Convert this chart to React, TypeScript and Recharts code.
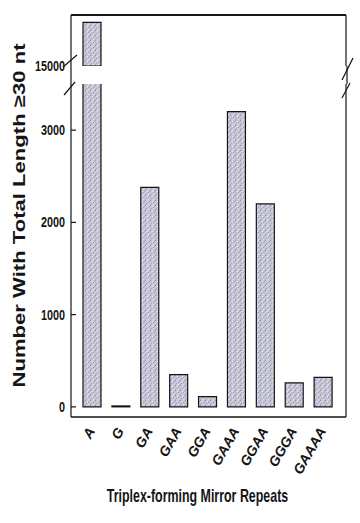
import { ComposedChart, Bar, Line, XAxis, YAxis, Label } from "recharts";

// repeat motifs along the x axis
const repeats = ["A", "G", "GA", "GAA", "GGA", "GAAA", "GGAA", "GGGA", "GAAAA"];
// number of mirror repeats with total length >= 30 nt
const counts = [15470, 10, 2380, 350, 110, 3200, 2200, 260, 320];
const lowTicks = [0, 1000, 2000, 3000];
const highTicks = [15000];
const breakAt = 15000;

const data = repeats.map((r, i) => ({
  repeat: r,
  count: counts[i],
  upper: counts[i] >= breakAt ? counts[i] : null,
}));

const ink = "#151515";
const sans = "'Liberation Sans', Arial, sans-serif";

function Stipple() {
  return (
    <defs>
      <pattern id="stip" width="5" height="5" patternUnits="userSpaceOnUse">
        <rect width="5" height="5" fill="#c8c8d9" />
        <rect x="0" y="0" width="1" height="1" fill="#8e8ea4" />
        <rect x="2" y="1" width="1" height="1" fill="#e9e9f1" />
        <rect x="4" y="1" width="1" height="1" fill="#a8a8bc" />
        <rect x="1" y="3" width="1" height="1" fill="#a2a2b6" />
        <rect x="3" y="2" width="1" height="1" fill="#9c9cb0" />
        <rect x="3" y="4" width="1" height="1" fill="#dcdce8" />
        <rect x="0" y="4" width="1" height="1" fill="#b0b0c2" />
      </pattern>
    </defs>
  );
}

// condensed bold numbers like the printed figure
function CountTick(props: any) {
  const { x, y, payload } = props;
  const s = String(payload.value);
  return (
    <text
      x={x}
      y={y}
      textAnchor="end"
      dominantBaseline="central"
      fill={ink}
      fontSize={14}
      fontWeight={700}
      fontFamily={sans}
      textLength={s.length * 6}
      lengthAdjust="spacingAndGlyphs"
    >
      {s}
    </text>
  );
}

function RepeatTick(props: any) {
  const { x, y, payload } = props;
  return (
    <g transform={`translate(${x + 3},${y + 14})`}>
      <text
        transform="rotate(-60)"
        textAnchor="end"
        fill={ink}
        fontSize={14}
        fontWeight={700}
        fontStyle="italic"
        fontFamily={sans}
      >
        {payload.value}
      </text>
    </g>
  );
}

function XTitle(props: any) {
  const { x, y, width } = props.viewBox;
  const cx = x + width / 2 - 11;
  const cy = y + 85;
  return (
    <g transform={`translate(${cx},${cy}) scale(0.69,1)`}>
      <text x={0} y={0} textAnchor="middle" fill={ink} fontSize={18} fontWeight={700} fontFamily={sans}>
        Triplex-forming Mirror Repeats
      </text>
    </g>
  );
}

function YTitle(props: any) {
  const { y, height } = props.viewBox;
  const cx = 19;
  const cy = y + height / 2 - 35;
  return (
    <text
      x={cx}
      y={cy}
      transform={`rotate(-90, ${cx}, ${cy})`}
      textAnchor="middle"
      dominantBaseline="central"
      fill={ink}
      fontSize={17}
      fontWeight={700}
      fontFamily={sans}
      textLength={344}
      lengthAdjust="spacingAndGlyphs"
    >
      Number With Total Length ≥30 nt
    </text>
  );
}

export default function App() {
  const W = 360;
  const H = 523;
  return (
    <div style={{ position: "absolute", left: 0, top: 0, width: W, height: H, background: "#fff" }}>
      {/* lower segment: 0 - 3500 */}
      <div style={{ position: "absolute", left: 0, top: 0 }}>
        <ComposedChart width={W} height={H} data={data} margin={{ top: 84, right: 13, bottom: 0, left: 0 }}>
          <Stipple />
          <XAxis
            dataKey="repeat"
            height={106}
            padding={{ left: 7, right: 8 }}
            tickLine={false}
            tickSize={0}
            tickMargin={0}
            interval={0}
            axisLine={{ stroke: ink, strokeWidth: 1.5 }}
            tick={<RepeatTick />}
          >
            <Label content={<XTitle />} />
          </XAxis>
          <YAxis
            width={71}
            domain={[-110, 3500]}
            ticks={lowTicks}
            allowDataOverflow
            tickSize={-5}
            tickMargin={11}
            axisLine={{ stroke: ink, strokeWidth: 1.2 }}
            tickLine={{ stroke: ink, strokeWidth: 1.2 }}
            tick={<CountTick />}
          >
            <Label content={<YTitle />} />
          </YAxis>
          <YAxis
            yAxisId="r"
            orientation="right"
            width={1}
            domain={[-110, 3500]}
            allowDataOverflow
            tick={false}
            tickLine={false}
            axisLine={{ stroke: ink, strokeWidth: 1.2 }}
          />
          <Bar dataKey="count" barSize={18} fill="url(#stip)" stroke={ink} strokeWidth={1.2} isAnimationActive={false} />
          <Line yAxisId="r" dataKey="upper" stroke="none" dot={false} activeDot={false} isAnimationActive={false} />
        </ComposedChart>
      </div>
      {/* upper segment above the break */}
      <div style={{ position: "absolute", left: 0, top: 0 }}>
        <ComposedChart width={W} height={84} data={data} margin={{ top: 14, right: 13, bottom: 18, left: 0 }}>
          <Stipple />
          <XAxis
            dataKey="repeat"
            orientation="top"
            height={1}
            padding={{ left: 7, right: 8 }}
            tick={false}
            tickLine={false}
            axisLine={{ stroke: ink, strokeWidth: 1.8 }}
          />
          <YAxis
            width={71}
            domain={[breakAt, 15550]}
            ticks={highTicks}
            allowDataOverflow
            tickLine={false}
            tickSize={6}
            tickMargin={0}
            axisLine={{ stroke: ink, strokeWidth: 1.2 }}
            tick={<CountTick />}
          />
          <YAxis
            yAxisId="r"
            orientation="right"
            width={1}
            domain={[breakAt, 15550]}
            allowDataOverflow
            tick={false}
            tickLine={false}
            axisLine={{ stroke: ink, strokeWidth: 1.2 }}
          />
          <Bar dataKey="upper" barSize={18} fill="url(#stip)" stroke={ink} strokeWidth={1.2} isAnimationActive={false} />
          <Line yAxisId="r" dataKey="upper" stroke="none" dot={false} activeDot={false} isAnimationActive={false} />
        </ComposedChart>
      </div>
      {/* axis break marks */}
      <svg width={W} height={H} style={{ position: "absolute", left: 0, top: 0, pointerEvents: "none" }}>
        <g stroke={ink} strokeWidth={1.2}>
          <line x1={71} y1={66} x2={71} y2={84} />
          <line x1={347} y1={66} x2={347} y2={84} />
          <line x1={63} y1={67} x2={77} y2={55} />
          <line x1={64} y1={95} x2={75} y2={82} />
          <line x1={342} y1={80} x2={353} y2={58} />
          <line x1={342} y1={98} x2={350} y2={83} />
        </g>
      </svg>
    </div>
  );
}
